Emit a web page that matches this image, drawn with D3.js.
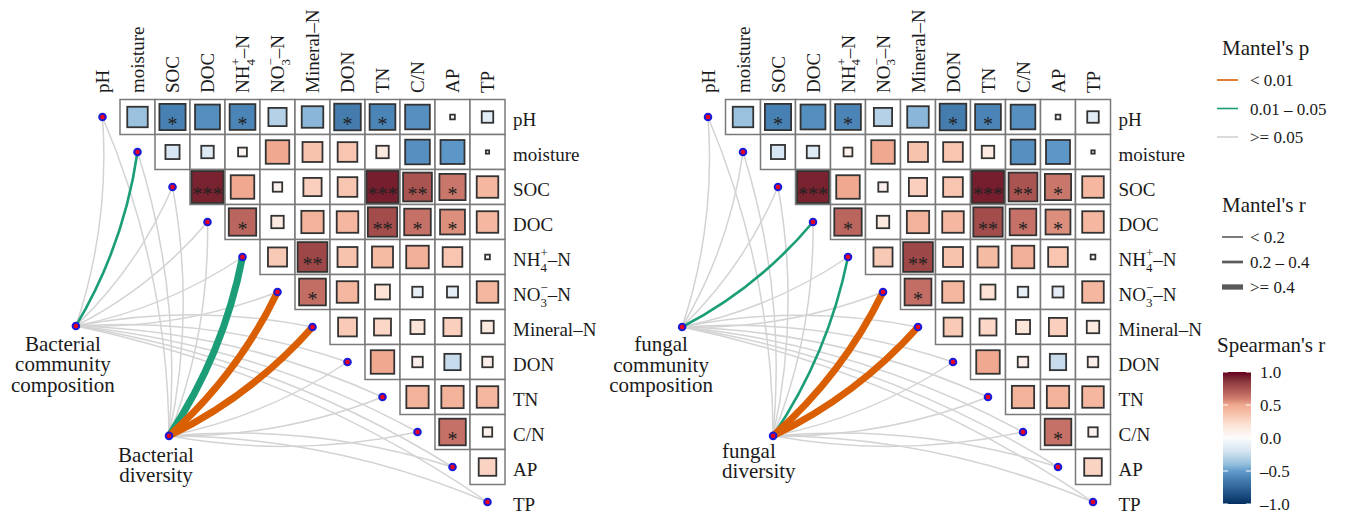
<!DOCTYPE html>
<html>
<head>
<meta charset="utf-8">
<script src="https://cdn.jsdelivr.net/npm/d3@7"></script>
<style>
  body { margin: 0; background: #fff; }
  svg { display: block; }
</style>
</head>
<body>
<svg id="chart" width="1349" height="518" font-family="'Liberation Serif', 'Times New Roman', 'DejaVu Serif', serif" fill="#1a1a1a"></svg>
<script>
// ---- environmental variables (label pieces for sub/superscripts) ----
const envBase = ["pH", "moisture", "SOC", "DOC", "NH", "NO", "Mineral\u2013N", "DON", "TN", "C/N", "AP", "TP"];
const envSub  = ["", "", "", "", "4", "3", "", "", "", "", "", ""];
const envSup  = ["", "", "", "", "+", "\u2212", "", "", "", "", "", ""];
const envTail = ["", "", "", "", "\u2013N", "\u2013N", "", "", "", "", "", ""];

// ---- Spearman's r between environmental variables (upper triangle, row by row) ----
const corPH       = [-0.38, -0.62, -0.56, -0.60, -0.30, -0.42, -0.64, -0.60, -0.55, -0.02, -0.12];
const corMoisture = [-0.18, -0.14, 0.07, 0.50, 0.36, 0.35, 0.14, -0.55, -0.52, -0.01];
const corSOC      = [0.92, 0.50, 0.08, 0.30, 0.35, 0.93, 0.75, 0.62, 0.42];
const corDOC      = [0.68, 0.14, 0.45, 0.42, 0.78, 0.64, 0.56, 0.42];
const corNH4      = [0.33, 0.80, 0.36, 0.40, 0.46, 0.35, 0.02];
const corNO3      = [0.65, 0.42, 0.20, -0.10, -0.11, 0.42];
const corMineral  = [0.32, 0.26, 0.18, 0.30, 0.14];
const corDON      = [0.50, 0.10, -0.24, 0.10];
const corTN       = [0.45, 0.45, 0.42];
const corCN       = [0.64, 0.08];
const corAP       = [0.28];

// ---- significance marks (same layout as the correlation rows) ----
const sigPH  = ["", "*", "", "*", "", "", "*", "*", "", "", ""];
const sigSOC = ["***", "", "", "", "", "***", "**", "*", ""];
const sigDOC = ["*", "", "", "", "**", "*", "*", ""];
const sigNH4 = ["", "**", "", "", "", "", ""];
const sigNO3 = ["*", "", "", "", "", ""];
const sigCN  = ["*", ""];

// ---- Mantel test results, one value per environmental variable ----
const bacCompR = [0.09, 0.27, 0.11, 0.08, 0.06, 0.07, 0.05, 0.09, 0.08, 0.10, 0.06, 0.05];
const bacCompP = [0.21, 0.03, 0.18, 0.36, 0.52, 0.44, 0.61, 0.27, 0.33, 0.15, 0.48, 0.66];
const bacDivR  = [0.07, 0.12, 0.10, 0.13, 0.46, 0.52, 0.50, 0.08, 0.11, 0.09, 0.06, 0.12];
const bacDivP  = [0.45, 0.17, 0.24, 0.13, 0.02, 0.004, 0.006, 0.38, 0.21, 0.29, 0.57, 0.19];
const funCompR = [0.08, 0.10, 0.12, 0.28, 0.07, 0.09, 0.06, 0.10, 0.11, 0.08, 0.05, 0.07];
const funCompP = [0.31, 0.22, 0.16, 0.03, 0.47, 0.35, 0.58, 0.19, 0.14, 0.40, 0.63, 0.42];
const funDivR  = [0.06, 0.11, 0.09, 0.12, 0.25, 0.51, 0.48, 0.07, 0.10, 0.08, 0.05, 0.09];
const funDivP  = [0.52, 0.20, 0.27, 0.15, 0.04, 0.003, 0.005, 0.41, 0.23, 0.34, 0.60, 0.26];

// ---- legend labels ----
const pLegendLabels = ["< 0.01", "0.01 \u2013 0.05", ">= 0.05"];
const rLegendLabels = ["< 0.2", "0.2 \u2013 0.4", ">= 0.4"];
const colorbarTicks = [1.0, 0.5, 0.0, -0.5, -1.0];

// ---------------------------------------------------------------------
const corRows = [corPH, corMoisture, corSOC, corDOC, corNH4, corNO3, corMineral, corDON, corTN, corCN, corAP];
const sigRows = [sigPH, [], sigSOC, sigDOC, sigNH4, sigNO3, [], [], [], sigCN, []];

const cells = [];
corRows.forEach((row, i) => row.forEach((r, k) => {
  const j = i + 1 + k;
  cells.push({ i, j, r, sig: (sigRows[i][k] || "") });
}));

const svg = d3.select("#chart");
const cell = 35;
const n = envBase.length;

// muted red-white-blue diverging palette for Spearman's r
const color = d3.scaleLinear()
  .domain([-1, -0.8, -0.6, -0.5, -0.4, -0.2, 0, 0.2, 0.4, 0.5, 0.6, 0.7, 0.8, 0.9, 1])
  .range(["#053061", "#275a8e", "#4b84b6", "#609ccb", "#94bedd", "#d3e4f1", "#fbfbfb",
          "#fde3d6", "#f6bba3", "#f0a990", "#cf7d6f", "#b5605a", "#9d4748", "#7d2a34", "#67001f"])
  .interpolate(d3.interpolateRgb);
const pColor = p => p < 0.01 ? "#D95F02" : (p < 0.05 ? "#1B9E77" : "#d3d3d3");
const rWidth = d3.scaleThreshold().domain([0.2, 0.4]).range([1.5, 2.6, 7]);

function drawLabel(text, i, fs) {
  text.append("tspan").text(envBase[i]);
  if (envSub[i]) {
    const s = fs * 0.68;
    text.append("tspan").attr("font-size", s).attr("dy", fs * 0.3).text(envSub[i]);
    text.append("tspan").attr("font-size", s).attr("dx", -s * 0.5).attr("dy", -fs * 0.78).text(envSup[i]);
    text.append("tspan").attr("dy", fs * 0.48).text(envTail[i]);
  }
}

const panels = [
  {
    x0: 102.5,
    species: [
      { name: ["Bacterial", "community", "composition"], R: bacCompR, P: bacCompP,
        gx: -0.76, gy: 5.97, lx: -13, ly: 25, anchor: "middle" },
      { name: ["Bacterial", "diversity"], R: bacDivR, P: bacDivP,
        gx: 1.9, gy: 9.11, lx: -13, ly: 26, anchor: "middle" }
    ]
  },
  {
    x0: 708,
    species: [
      { name: ["fungal", "community", "composition"], R: funCompR, P: funCompP,
        gx: -0.74, gy: 6.0, lx: -21, ly: 24, anchor: "middle" },
      { name: ["fungal", "diversity"], R: funDivR, P: funDivP,
        gx: 1.86, gy: 9.11, lx: -51, ly: 22, anchor: "start" }
    ]
  }
];

panels.forEach(panel => {
  const x = d3.scaleLinear().domain([0, n - 1]).range([panel.x0, panel.x0 + (n - 1) * cell]);
  const y = d3.scaleLinear().domain([0, n - 1]).range([117, 117 + (n - 1) * cell]);
  const g = svg.append("g");

  // Mantel links: grey ones underneath, coloured on top
  const links = [];
  panel.species.forEach(sp => {
    sp.R.forEach((r, e) => links.push({ sp, e, r, p: sp.P[e] }));
  });
  links.sort((a, b) => (a.p >= 0.05 ? 0 : 1) - (b.p >= 0.05 ? 0 : 1));

  g.append("g").selectAll("path").data(links).join("path")
    .attr("fill", "none")
    .attr("stroke", d => pColor(d.p))
    .attr("stroke-width", d => rWidth(d.r))
    .attr("stroke-linecap", "round")
    .attr("d", d => {
      const sx = x(d.sp.gx), sy = y(d.sp.gy);
      const ex = x(d.e), ey = y(d.e);
      const dx = ex - sx, dy = ey - sy;
      const k = 0.1;
      const mx = (sx + ex) / 2, my = (sy + ey) / 2;
      const cx = ey < sy ? mx - k * dy : mx + k * dy;
      const cy = ey < sy ? my + k * dx : my - k * dx;
      return `M${sx},${sy}Q${cx},${cy} ${ex},${ey}`;
    });

  // correlation cells
  const cg = g.append("g").selectAll("g").data(cells).join("g")
    .attr("transform", d => `translate(${x(d.j)},${y(d.i)})`);
  cg.append("rect")
    .attr("x", -cell / 2).attr("y", -cell / 2).attr("width", cell).attr("height", cell)
    .attr("fill", "#fff").attr("stroke", "#7a7a7a").attr("stroke-width", 1.5);
  cg.append("rect")
    .attr("x", d => -0.95 * cell * Math.sqrt(Math.abs(d.r)) / 2)
    .attr("y", d => -0.95 * cell * Math.sqrt(Math.abs(d.r)) / 2)
    .attr("width", d => 0.95 * cell * Math.sqrt(Math.abs(d.r)))
    .attr("height", d => 0.95 * cell * Math.sqrt(Math.abs(d.r)))
    .attr("fill", d => color(d.r))
    .attr("stroke", "#333").attr("stroke-width", 1.8);
  cg.filter(d => d.sig).append("text")
    .attr("text-anchor", "middle").attr("y", 14)
    .attr("font-size", 20).attr("fill", "#222")
    .text(d => d.sig);

  // column labels
  d3.range(n).forEach(i => {
    const t = g.append("text")
      .attr("transform", `translate(${x(i)},93) rotate(-90)`)
      .attr("dy", "0.35em").attr("font-size", 19);
    drawLabel(t, i, 19);
  });
  // row labels
  d3.range(n).forEach(i => {
    const t = g.append("text")
      .attr("x", x(n - 1) + cell / 2 + 8).attr("y", y(i) + 9)
      .attr("font-size", 19);
    drawLabel(t, i, 19);
  });

  // nodes for environmental variables
  g.append("g").selectAll("circle").data(d3.range(n)).join("circle")
    .attr("cx", i => x(i)).attr("cy", i => y(i)).attr("r", 3.3)
    .attr("fill", "#e8001c").attr("stroke", "#1a1ad8").attr("stroke-width", 2);

  // species nodes and labels
  panel.species.forEach(sp => {
    const sx = x(sp.gx), sy = y(sp.gy);
    g.append("circle").attr("cx", sx).attr("cy", sy).attr("r", 3.3)
      .attr("fill", "#e8001c").attr("stroke", "#1a1ad8").attr("stroke-width", 2);
    const t = g.append("text").attr("font-size", 21).attr("text-anchor", sp.anchor);
    sp.name.forEach((line, li) => {
      t.append("tspan").attr("x", sx + sp.lx).attr("y", sy + sp.ly + li * 20.5).text(line);
    });
  });
});

// ---- legends ----
const lg = svg.append("g");
lg.append("text").attr("x", 1222).attr("y", 55).attr("font-size", 21).text("Mantel's p");
const pKeys = [0.005, 0.03, 0.2];
pKeys.forEach((p, k) => {
  const yy = 80 + k * 28.5;
  lg.append("line").attr("x1", 1217).attr("x2", 1238).attr("y1", yy).attr("y2", yy)
    .attr("stroke", pColor(p)).attr("stroke-width", 1.6);
  lg.append("text").attr("x", 1250).attr("y", yy + 6).attr("font-size", 17).text(pLegendLabels[k]);
});

lg.append("text").attr("x", 1222).attr("y", 212).attr("font-size", 21).text("Mantel's r");
const rKeyWidths = [1.6, 2.7, 5.3];
rKeyWidths.forEach((w, k) => {
  const yy = 237 + k * 25;
  lg.append("line").attr("x1", 1222).attr("x2", 1243).attr("y1", yy).attr("y2", yy)
    .attr("stroke", "#5a5a5a").attr("stroke-width", w);
  lg.append("text").attr("x", 1250).attr("y", yy + 6).attr("font-size", 17).text(rLegendLabels[k]);
});

lg.append("text").attr("x", 1217).attr("y", 352).attr("font-size", 21).text("Spearman's r");
const cbY = d3.scaleLinear().domain([1, -1]).range([372, 504]);
const grad = svg.append("defs").append("linearGradient").attr("id", "cbar")
  .attr("x1", 0).attr("x2", 0).attr("y1", 0).attr("y2", 1);
d3.range(0, 1.0001, 0.025).forEach(t => {
  grad.append("stop").attr("offset", t).attr("stop-color", color(1 - 2 * t));
});
lg.append("rect").attr("x", 1223).attr("y", cbY(1)).attr("width", 28)
  .attr("height", cbY(-1) - cbY(1)).attr("fill", "url(#cbar)");
colorbarTicks.forEach(v => {
  const yy = cbY(v);
  lg.append("line").attr("x1", 1223).attr("x2", 1228).attr("y1", yy).attr("y2", yy)
    .attr("stroke", "#fff").attr("stroke-width", 1);
  lg.append("line").attr("x1", 1246).attr("x2", 1251).attr("y1", yy).attr("y2", yy)
    .attr("stroke", "#fff").attr("stroke-width", 1);
  lg.append("text").attr("x", 1260).attr("y", yy + 6).attr("font-size", 17)
    .text(v < 0 ? "\u2013" + Math.abs(v).toFixed(1) : v.toFixed(1));
});
</script>
</body>
</html>
